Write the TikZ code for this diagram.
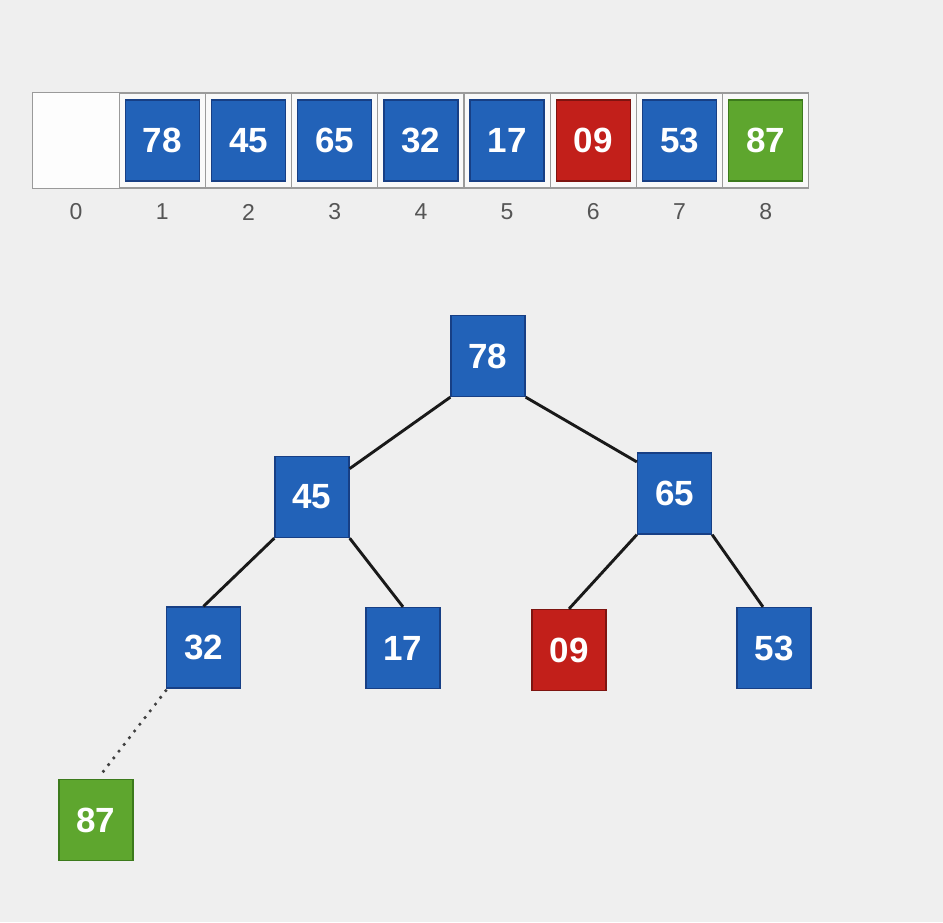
\documentclass[tikz,border=0pt]{standalone}
\usepackage{fontspec}
\setmainfont{Liberation Sans}
\usetikzlibrary{calc}
\definecolor{bgc}{HTML}{EFEFEF}
\definecolor{bluef}{HTML}{2262B8}
\definecolor{blued}{HTML}{173F85}
\definecolor{redf}{HTML}{C21F1A}
\definecolor{redd}{HTML}{7E1410}
\definecolor{greenf}{HTML}{5EA62E}
\definecolor{greend}{HTML}{3C7A1C}
\definecolor{cellb}{HTML}{9A9A9A}
\definecolor{idxc}{HTML}{555555}
\tikzset{
  keybox/.style={minimum width=74pt, minimum height=81pt, inner sep=0pt,
    line width=1.3pt, text=white, font=\fontsize{35}{35}\selectfont\bfseries},
  bluekey/.style={keybox, fill=bluef, draw=blued},
  redkey/.style={keybox, fill=redf, draw=redd},
  greenkey/.style={keybox, fill=greenf, draw=greend},
  cellbox/.style={minimum width=86.2pt, minimum height=95pt, inner sep=0pt,
    draw=cellb, line width=1.2pt, fill=white!60!bgc},
  idx/.style={text=idxc, font=\fontsize{23}{23}\selectfont},
  edge/.style={line width=2.9pt, black!90},
  dotedge/.style={line width=3.6pt, black!75, line cap=round, dash pattern=on 0pt off 8.5pt}
}
\begin{document}
\begin{tikzpicture}[x=1pt,y=-1pt]
\fill[bgc] (0,0) rectangle (943,922);
\useasboundingbox (0,0) rectangle (943,922);
% array cells
\foreach \i in {0,...,8} {
  \node[cellbox] (c\i) at ({33+86.2*(\i+0.5)},140.5) {};
  \node[idx] (i\i) at ({33+86.2*(\i+0.5)},212) {\i};
}
\fill[white!85!bgc] (c0.north west) rectangle (c0.south east);
\draw[cellb, line width=1.2pt] (c0.north west) rectangle (c0.south east);
\node[bluekey] (a1) at (c1) {78};
\node[bluekey] (a2) at (c2) {45};
\node[bluekey] (a3) at (c3) {65};
\node[bluekey] (a4) at (c4) {32};
\node[bluekey] (a5) at (c5) {17};
\node[redkey] (a6) at (c6) {09};
\node[bluekey] (a7) at (c7) {53};
\node[greenkey] (a8) at (c8) {87};
% tree
\node[bluekey] (t78) at (488,356) {78};
\node[bluekey] (t45) at (312,497) {45};
\node[bluekey] (t65) at (674.5,493.5) {65};
\node[bluekey] (t32) at (203.5,647.5) {32};
\node[bluekey] (t17) at (403,648) {17};
\node[redkey] (t09) at (569,650) {09};
\node[bluekey] (t53) at (774,648) {53};
\node[greenkey] (t87) at (96,820) {87};
\draw[edge] (t78.south west) -- (t45.37);
\draw[edge] (t78.south east) -- (t65.140);
\draw[edge] (t45.south west) -- (t32.north);
\draw[edge] (t45.south east) -- (t17.north);
\draw[edge] (t65.south west) -- (t09.north);
\draw[edge] (t65.south east) -- (t53.105);
\coordinate (d87) at ($(t87.north)+(7,-7)$);
\draw[dotedge] ($(t32.south west)+(0,2)$) -- (d87);
\end{tikzpicture}
\end{document}
